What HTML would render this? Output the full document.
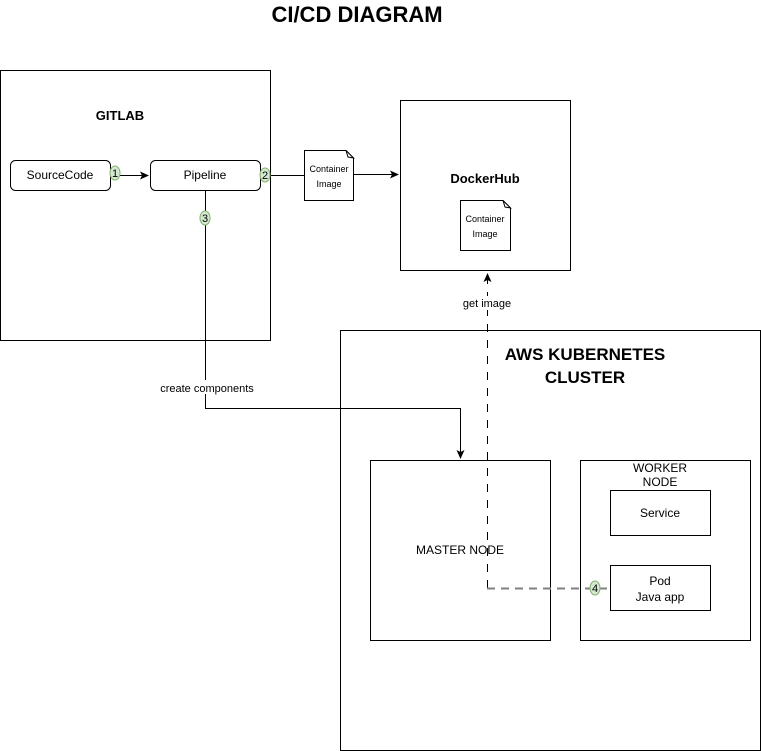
<!DOCTYPE html>
<html><head><style>body{margin:0;background:#fff}svg{display:block}text{font-family:"Liberation Sans",Arial,sans-serif}</style></head>
<body>
<svg width="761" height="751" viewBox="0 0 761 751" xmlns="http://www.w3.org/2000/svg">
<defs><marker id="a" markerWidth="10" markerHeight="10" refX="8" refY="5" orient="auto" markerUnits="userSpaceOnUse"><path d="M0,1 L9,5 L0,9 L2,5 Z" fill="#000"/></marker></defs>
<text x="357" y="22" font-size="22" font-weight="bold" text-anchor="middle">CI/CD DIAGRAM</text>
<g fill="#fff" stroke="#000" stroke-width="1">
<rect x="0.5" y="70.5" width="270" height="270"/>
<rect x="400.5" y="100.5" width="170" height="170"/>
<rect x="340.5" y="330.5" width="420" height="420"/>
<rect x="370.5" y="460.5" width="180" height="180"/>
<rect x="580.5" y="460.5" width="170" height="180"/>
<rect x="610.5" y="490.5" width="100" height="45"/>
<rect x="610.5" y="565.5" width="100" height="45"/>
<rect x="10.5" y="160.5" width="100" height="30" rx="5"/>
<rect x="150.5" y="160.5" width="110" height="30" rx="5"/>
<path d="M304.5,150.5 H346 L353.5,158 V200.5 H304.5 Z"/>
<path d="M460.5,200.5 H503 L510.5,208 V250.5 H460.5 Z"/>
</g>
<path d="M346,150.5 L353.5,158 L348,157 Z M503,200.5 L510.5,208 L505,207 Z" fill="#fff" stroke="#000"/>
<text x="120" y="120" font-size="13" font-weight="bold" text-anchor="middle">GITLAB</text>
<text x="485" y="183" font-size="13" font-weight="bold" text-anchor="middle">DockerHub</text>
<text x="585" y="360" font-size="17" font-weight="bold" text-anchor="middle">AWS KUBERNETES</text>
<text x="585" y="383" font-size="17" font-weight="bold" text-anchor="middle">CLUSTER</text>
<g font-size="12" text-anchor="middle">
<text x="60" y="179">SourceCode</text>
<text x="205" y="179">Pipeline</text>
<text x="460" y="554">MASTER NODE</text>
<text x="660" y="472">WORKER</text>
<text x="660" y="486">NODE</text>
<text x="660" y="517">Service</text>
<text x="660" y="585">Pod</text>
<text x="660" y="601">Java app</text>
</g>
<g font-size="9" text-anchor="middle">
<text x="329" y="172">Container</text>
<text x="329" y="187">Image</text>
<text x="485" y="222">Container</text>
<text x="485" y="237">Image</text>
</g>
<g stroke="#000" fill="none">
<line x1="110" y1="175.5" x2="148" y2="175.5" marker-end="url(#a)"/>
<line x1="260" y1="175.5" x2="304" y2="175.5"/>
<line x1="353" y1="174.5" x2="398" y2="174.5" marker-end="url(#a)"/>
<path d="M205.5,190 V408.5 H460.5 V458" marker-end="url(#a)"/>
<path d="M487.5,588 V274" stroke-dasharray="8,8" marker-end="url(#a)"/>
</g>
<line x1="487" y1="588.5" x2="610" y2="588.5" stroke="#808080" stroke-width="2" stroke-dasharray="8,6"/>
<rect x="455" y="296" width="65" height="14" fill="#fff"/>
<text x="487" y="307" font-size="11" text-anchor="middle">get image</text>
<rect x="158" y="380" width="100" height="14" fill="#fff"/>
<text x="207" y="392" font-size="11" text-anchor="middle">create components</text>
<g fill="#d5e8d4" stroke="#82b366">
<ellipse cx="115" cy="173" rx="5" ry="7"/>
<ellipse cx="265" cy="175" rx="5" ry="7"/>
<ellipse cx="205" cy="218" rx="5" ry="7"/>
<ellipse cx="595" cy="588" rx="5" ry="7"/>
</g>
<g font-size="11" text-anchor="middle">
<text x="115" y="177">1</text><text x="265" y="179">2</text><text x="205" y="222">3</text><text x="595" y="592">4</text>
</g>
</svg>
</body></html>
